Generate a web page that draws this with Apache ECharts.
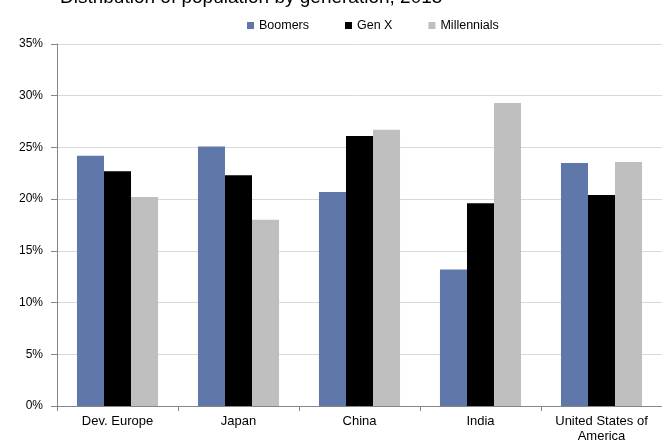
<!DOCTYPE html>
<html>
<head>
<meta charset="utf-8">
<script src="https://cdn.jsdelivr.net/npm/echarts@6/dist/echarts.min.js"></script>
<style>
  html, body { margin: 0; padding: 0; background: #fff; }
  #chart { width: 662px; height: 440px; }
</style>
</head>
<body>
<div id="chart"></div>
<script>
var regions = ['Dev. Europe', 'Japan', 'China', 'India', 'United States of\nAmerica'];
var boomers = [24.2, 25.1, 20.7, 13.2, 23.5];
var genX = [22.7, 22.3, 26.1, 19.6, 20.4];
var millennials = [20.2, 18.0, 26.7, 29.3, 23.6];

var font = 'Liberation Sans, Arial, sans-serif';

function bar(name, data, color) {
    return {
        name: name,
        type: 'bar',
        data: data,
        barGap: '0%',
        barCategoryGap: '33%',
        itemStyle: { color: color }
    };
}

var chart = echarts.init(document.getElementById('chart'));
chart.setOption({
    backgroundColor: '#fff',
    animation: false,
    title: {
        text: 'Distribution of population by generation, 2015',
        left: 55,
        top: -17,
        textStyle: { fontFamily: font, fontSize: 19, fontWeight: 'normal', color: '#000' }
    },
    legend: {
        left: 242,
        top: 14,
        itemWidth: 7,
        itemHeight: 7,
        itemGap: 36,
        icon: 'rect',
        textStyle: { fontFamily: font, fontSize: 12.5, color: '#000' },
        data: ['Boomers', 'Gen X', 'Millennials']
    },
    grid: { left: 57, right: 0, top: 44, bottom: 34, outerBoundsMode: 'none', containLabel: false },
    xAxis: {
        type: 'category',
        data: regions,
        axisLine: { lineStyle: { color: '#868686' } },
        axisTick: { show: true, length: 5, lineStyle: { color: '#868686' } },
        axisLabel: { fontFamily: font, fontSize: 13, color: '#000', margin: 8, lineHeight: 15 }
    },
    yAxis: {
        type: 'value',
        min: 0,
        max: 35,
        interval: 5,
        axisLine: { show: true, lineStyle: { color: '#868686' } },
        axisTick: { show: true, length: 6, lineStyle: { color: '#868686' } },
        splitLine: { lineStyle: { color: '#d9d9d9' } },
        axisLabel: { fontFamily: font, fontSize: 12, color: '#000', margin: 14, formatter: '{value}%' }
    },
    series: [
        bar('Boomers', boomers, '#5f77a9'),
        bar('Gen X', genX, '#000000'),
        bar('Millennials', millennials, '#bfbfbf')
    ]
});
</script>
</body>
</html>
